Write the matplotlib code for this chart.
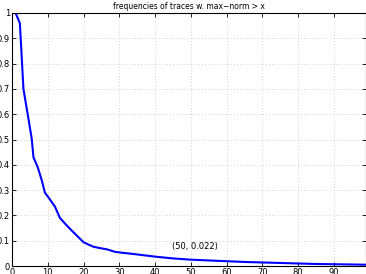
import numpy as np
import matplotlib.pyplot as plt

# values
norm_x = [0, 1, 2.2, 3.2, 4.5, 5.5, 6.0, 7.2, 8.3, 9.2, 10.5, 12, 13.4, 15, 16.7,
          18.5, 20, 21.5, 22.8, 24.5, 26.5, 28.8, 31, 33, 36, 40, 45, 50, 55,
          60, 65, 70, 75, 80, 85, 90, 95, 99]
freq = [1.0, 1.0, 0.96, 0.70, 0.59, 0.505, 0.43, 0.39, 0.34, 0.29, 0.265, 0.235, 0.19,
        0.165, 0.14, 0.115, 0.094, 0.084, 0.076, 0.071, 0.066, 0.056, 0.052, 0.049,
        0.044, 0.037, 0.030, 0.025, 0.022, 0.019, 0.016, 0.014, 0.012, 0.010,
        0.008, 0.007, 0.006, 0.005]

fig = plt.figure(figsize=(3.66, 2.74), dpi=100)
ax = fig.add_axes([12 / 366, 8 / 274, 354 / 366, 253 / 274])

ax.plot(norm_x, freq, color='#0000ff', lw=1.5)
ax.set_xlim(0, 99)
ax.set_ylim(0, 1)
ax.set_xticks(np.arange(0, 100, 10))
ax.set_yticks(np.arange(0, 1.01, 0.1))
ax.set_yticklabels(['0', '0.1', '0.2', '0.3', '0.4', '0.5', '0.6', '0.7', '0.8', '0.9', '1'])
ax.tick_params(direction='in', labelsize=6, length=3, width=0.6, top=True, right=True, pad=1.5)
ax.grid(True, color='#c4c4c4', lw=0.6, dashes=(1, 2.5))
for s in ax.spines.values():
    s.set_linewidth(0.8)

ax.set_title('frequencies of traces w. max\u2212norm > x', fontsize=5.5, pad=3)
ax.text(51.3, 0.076, '(50, 0.022)', fontsize=6, ha='center', va='center')

fig.savefig('out.png', dpi=100)
